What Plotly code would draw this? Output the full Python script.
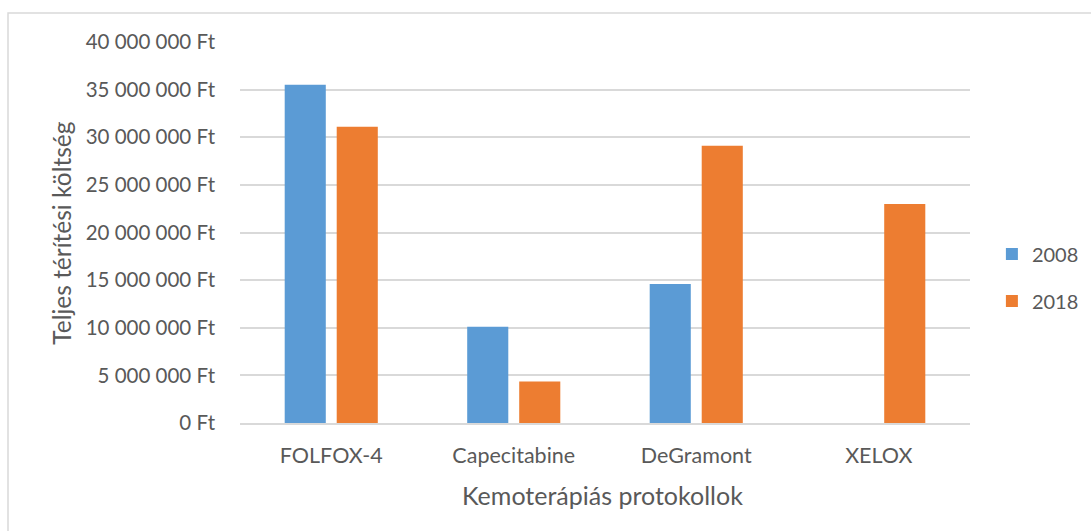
import plotly.graph_objects as go

# Protocol cost data (Ft)
protocols = ["FOLFOX-4", "Capecitabine", "DeGramont", "XELOX"]
cost_2008 = [35_500_000, 10_100_000, 14_600_000, None]
cost_2018 = [31_100_000, 4_350_000, 29_100_000, 23_000_000]
series_names = ["2008", "2018"]

tick_values = [0, 5_000_000, 10_000_000, 15_000_000, 20_000_000,
               25_000_000, 30_000_000, 35_000_000, 40_000_000]
tick_labels = ["0 Ft", "5 000 000 Ft", "10 000 000 Ft", "15 000 000 Ft",
               "20 000 000 Ft", "25 000 000 Ft", "30 000 000 Ft",
               "35 000 000 Ft", "40 000 000 Ft"]

x_title = "Kemoterápiás protokollok"
y_title = "Teljes térítési költség"

FONT = "Lato, 'Open Sans', sans-serif"
TEXT = "#595959"
GRID = "#d9d9d9"

fig = go.Figure()
fig.add_trace(go.Bar(x=protocols, y=cost_2008, name=series_names[0],
                     marker=dict(color="#5B9BD5", line=dict(width=0)),
                     legendgroup="a"))
fig.add_trace(go.Bar(x=protocols, y=cost_2018, name=series_names[1],
                     marker=dict(color="#ED7D31", line=dict(width=0)),
                     legendgroup="b"))

fig.update_layout(
    width=1091, height=531,
    margin=dict(l=240, r=121, t=42, b=108, autoexpand=False),
    paper_bgcolor="white", plot_bgcolor="white",
    barmode="group", bargap=0.43, bargroupgap=0.21,
    font=dict(family=FONT, color=TEXT, size=20),
    showlegend=True,
    legend=dict(x=1.03, y=0.382, xanchor="left", yanchor="middle",
                font=dict(size=20, color=TEXT), tracegroupgap=18,
                itemwidth=30),
    xaxis=dict(
        tickfont=dict(size=21.5, color=TEXT),
        showline=True, linecolor=GRID, linewidth=2,
        ticks="", ticklabelstandoff=12,
    ),
    yaxis=dict(
        range=[0, 40_000_000],
        tickvals=tick_values, ticktext=tick_labels,
        tickfont=dict(size=20.5, color=TEXT),
        showgrid=True, gridcolor=GRID, gridwidth=1.5,
        zeroline=False, ticks="", ticklabelstandoff=24,
    ),
    annotations=[
        dict(text=x_title, xref="paper", yref="paper", x=0.496, y=-0.189,
             xanchor="center", yanchor="middle", showarrow=False,
             font=dict(size=25, color=TEXT)),
        dict(text=y_title, xref="paper", yref="paper", x=-0.244, y=0.499,
             xanchor="center", yanchor="middle", showarrow=False,
             textangle=-90, font=dict(size=24.5, color=TEXT)),
    ],
    shapes=[dict(type="rect", xref="paper", yref="paper",
                 x0=-0.3178, x1=1.4, y0=-0.6, y1=1.076,
                 line=dict(color=GRID, width=1.5), layer="below")],
)

fig.write_html("out.html")
